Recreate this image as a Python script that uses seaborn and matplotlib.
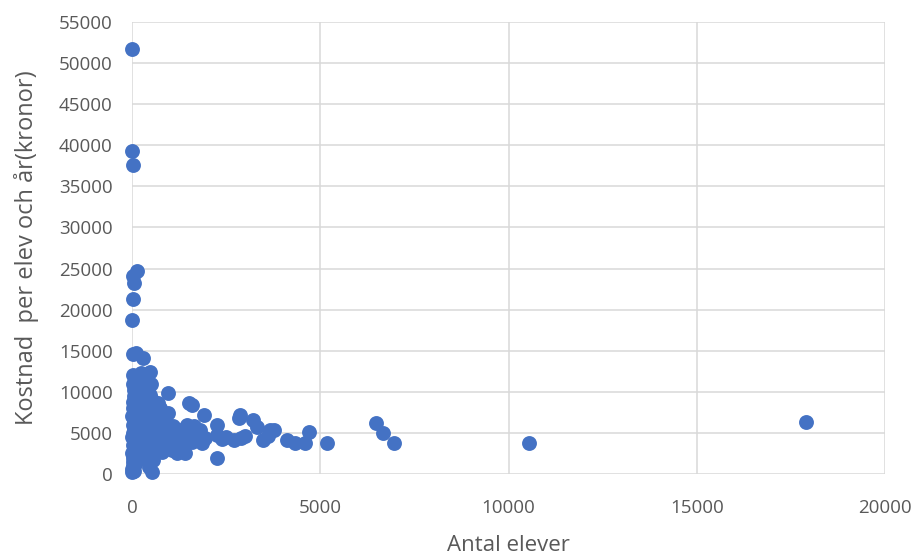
import matplotlib
matplotlib.use("Agg")
import matplotlib.pyplot as plt
import seaborn as sns
import pandas as pd

antal_elever = [
    10, 10, 15, 130, 20, 40, 15, 10, 20, 110, 300, 470, 965,
    5, 10, 20, 15, 30, 10, 40, 20, 50, 10, 30, 60, 20, 40, 10, 50, 30, 20, 60, 40, 20, 80, 30, 70, 90, 100, 80, 100, 110, 90, 60,
    180, 250, 300, 200, 280, 220, 320, 260, 180, 300, 240, 200, 310, 260, 200, 330, 280, 350, 230,
    520, 450, 560, 400, 500, 600, 420, 550, 480, 600, 400, 520, 460, 580, 420, 540, 470, 400, 500,
    650, 750, 700, 850, 650, 800, 900, 700, 850, 750, 950, 680, 900, 800,
    1050, 1200, 1100, 1250, 1150, 1300, 1400, 1100, 1500, 1600, 1700, 1800, 1520, 1600, 1900, 1410, 1275, 1450, 1650, 1750, 1950, 1850, 1350, 1550,
    2250, 2250, 2250, 2400, 2500, 2700, 2850, 2870, 2900, 3000, 3220, 3310, 3490, 3760, 3600, 3665, 4110, 4330, 4600, 4710, 5190, 6480, 6660, 6970, 10550, 17900,
]
kostnad = [
    51700, 39300, 37600, 24700, 24100, 23300, 21300, 18700, 14600, 14700, 14100, 12450, 9820,
    200, 600, 1000, 1500, 2000, 2500, 3000, 3500, 4000, 4500, 5000, 5500, 6000, 6500, 7000, 7500, 8000, 8800, 9500, 10200, 11000, 11600, 12000, 3200, 4800, 6200, 7800, 9200, 2600, 1200, 400,
    1800, 2400, 3100, 3800, 4300, 5100, 5600, 6300, 6900, 7400, 8100, 8700, 9300, 10000, 10600, 11200, 11800, 2000, 12300,
    300, 900, 1700, 2300, 2800, 3400, 3900, 4400, 5000, 5500, 6000, 6600, 7200, 7800, 8400, 9000, 9600, 10300, 10900,
    3000, 3600, 4200, 4700, 5200, 5700, 6200, 6800, 7300, 8000, 7400, 8700, 4000, 2700,
    2900, 2500, 3500, 4000, 4600, 5100, 5600, 5800, 4500, 3900, 4700, 5300, 8600, 8400, 7180, 2550, 4540, 6000, 5900, 4100, 4400, 3800, 3300, 5200,
    5960, 4750, 1950, 4300, 4500, 4100, 6780, 7180, 4400, 4600, 6570, 5760, 4140, 5350, 4600, 5350, 4140, 3740, 3740, 5150, 3740, 6170, 4950, 3740, 3740, 6300,
]
x_ticks = [0, 5000, 10000, 15000, 20000]
y_ticks = list(range(0, 55001, 5000))
x_label = "Antal elever"
y_label = "Kostnad  per elev och år(kronor)"

df = pd.DataFrame({"x": antal_elever, "y": kostnad})

sns.set_style("white")
plt.rcParams["font.family"] = ["Open Sans", "DejaVu Sans"]

fig = plt.figure(figsize=(9.2, 5.58), dpi=100)
ax = fig.add_axes([0.1435, 0.1505, 0.8185, 0.8101])

sns.scatterplot(data=df, x="x", y="y", ax=ax, s=115, color="#4472C4",
                edgecolor="#4472C4", linewidth=0, zorder=3, clip_on=False)

ax.set_xlim(0, 20000)
ax.set_ylim(0, 55000)
ax.set_xticks(x_ticks)
ax.set_yticks(y_ticks)
ax.set_xticklabels([str(t) for t in x_ticks])
ax.set_yticklabels([str(t) for t in y_ticks])
ax.grid(True, color="#D9D9D9", linewidth=1.1, zorder=0)
ax.set_axisbelow(True)
for s in ax.spines.values():
    s.set_visible(False)
ax.tick_params(axis="x", length=0, labelsize=13.5, colors="#595959", pad=18)
ax.tick_params(axis="y", length=0, labelsize=13.5, colors="#595959", pad=14)
ax.set_xlabel(x_label, fontsize=16, color="#595959", labelpad=13)
ax.set_ylabel(y_label, fontsize=17, color="#595959", labelpad=14)

fig.savefig("out.png", dpi=100)
